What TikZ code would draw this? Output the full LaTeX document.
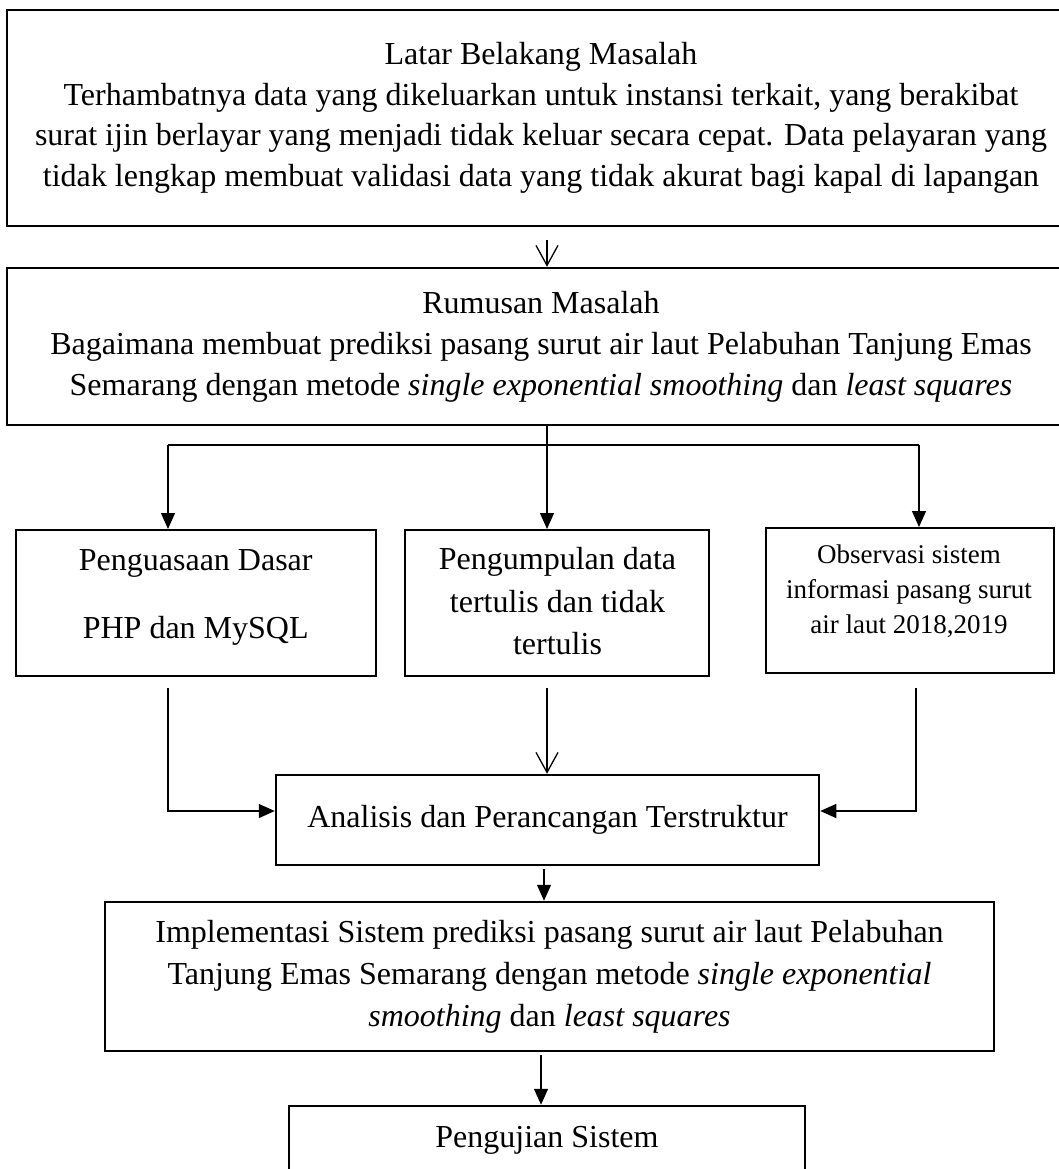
\documentclass[tikz,border=0pt]{standalone}
\usepackage{fontspec}
\setmainfont{Liberation Serif}
\usetikzlibrary{arrows.meta}
\begin{document}
\begin{tikzpicture}[x=1pt,y=-1pt,
  box/.style={draw, line width=2.5pt, inner sep=0pt},
  sbox/.style={draw, line width=2pt, inner sep=0pt},
  txt/.style={align=center, inner sep=0pt, font=\fontsize{32}{40.5}\selectfont},
  conn/.style={line width=1.3pt},
  fa/.style={conn, -{Triangle[length=16pt,width=14pt]}},
  oa/.style={conn, -{Straight Barb[length=20pt,width=22pt]}}]
\useasboundingbox (0,0) rectangle (1059,1169);
\clip (0,0) rectangle (1059,1169);
\fill[white] (0,0) rectangle (1059,1169);

% top boxes
\node[box, txt, minimum width=1068pt, minimum height=216pt] (bg) at (541,118)
 {Latar Belakang Masalah\\
  Terhambatnya data yang dikeluarkan untuk instansi terkait, yang berakibat\\
  surat ijin berlayar yang menjadi tidak keluar secara cepat. Data pelayaran yang\\
  tidak lengkap membuat validasi data yang tidak akurat bagi kapal di lapangan};
\node[box, txt, font=\fontsize{32}{41}\selectfont, minimum width=1068pt, minimum height=157pt] (rm) at (541,346.5)
 {Rumusan Masalah\\
  Bagaimana membuat prediksi pasang surut air laut Pelabuhan Tanjung Emas\\
  Semarang dengan metode \textit{single exponential smoothing} dan \textit{least squares}};

% middle row
\node[sbox, minimum width=360.5pt, minimum height=146pt] (pg) at (195.75,603) {};
\node[txt, font=\fontsize{32}{68}\selectfont] (pgt) at (195.75,597)
 {Penguasaan Dasar\\PHP dan MySQL};
\node[sbox, minimum width=304pt, minimum height=146pt] (pd) at (557,603) {};
\node[txt, font=\fontsize{32}{42.5}\selectfont] (pdt) at (557.5,601.5)
 {Pengumpulan data\\tertulis dan tidak\\tertulis};
\node[sbox, minimum width=288.5pt, minimum height=145pt] (ob) at (909.75,600.5) {};
\node[txt, font=\fontsize{27}{35}\selectfont] (obt) at (909,591)
 {Observasi sistem\\informasi pasang surut\\air laut 2018,2019};

% lower boxes
\node[box, txt, minimum width=543pt, minimum height=90pt] (an) at (547.5,820)
 {Analisis dan Perancangan Terstruktur};
\node[box, txt, font=\fontsize{32}{42}\selectfont, minimum width=889pt, minimum height=149pt] (im) at (549.5,976.5)
 {Implementasi Sistem prediksi pasang surut air laut Pelabuhan\\
  Tanjung Emas Semarang dengan metode \textit{single exponential}\\
  \textit{smoothing} dan \textit{least squares}};
\node[box, txt, minimum width=516pt, minimum height=68pt] (pj) at (547,1140)
 {Pengujian Sistem};

% connectors
\coordinate (c1) at (547,240);
\draw[oa] (c1) -- (c1 |- rm.north);

\coordinate (s1) at (547,425);
\coordinate (hl) at (168,445);
\coordinate (hr) at (919,445);
\draw[conn] (hl) -- (hr);
\draw[fa] (s1) -- (s1 |- pd.north);
\draw[fa] (hl) -- (hl |- pg.north);
\draw[fa] (hr) -- (hr |- ob.north);

\coordinate (l1) at (168,688);
\coordinate (l2) at (168,811);
\draw[fa] (l1) -- (l2) -- (l2 -| an.west);
\coordinate (m1) at (547,688);
\draw[oa] (m1) -- (m1 |- an.north);
\coordinate (r1) at (916,688);
\coordinate (r2) at (916,811);
\draw[fa] (r1) -- (r2) -- (r2 -| an.east);

\coordinate (a2) at (544,869);
\draw[fa] (a2) -- (a2 |- im.north);
\coordinate (a3) at (541,1055);
\draw[fa] (a3) -- (a3 |- pj.north);
\end{tikzpicture}
\end{document}
